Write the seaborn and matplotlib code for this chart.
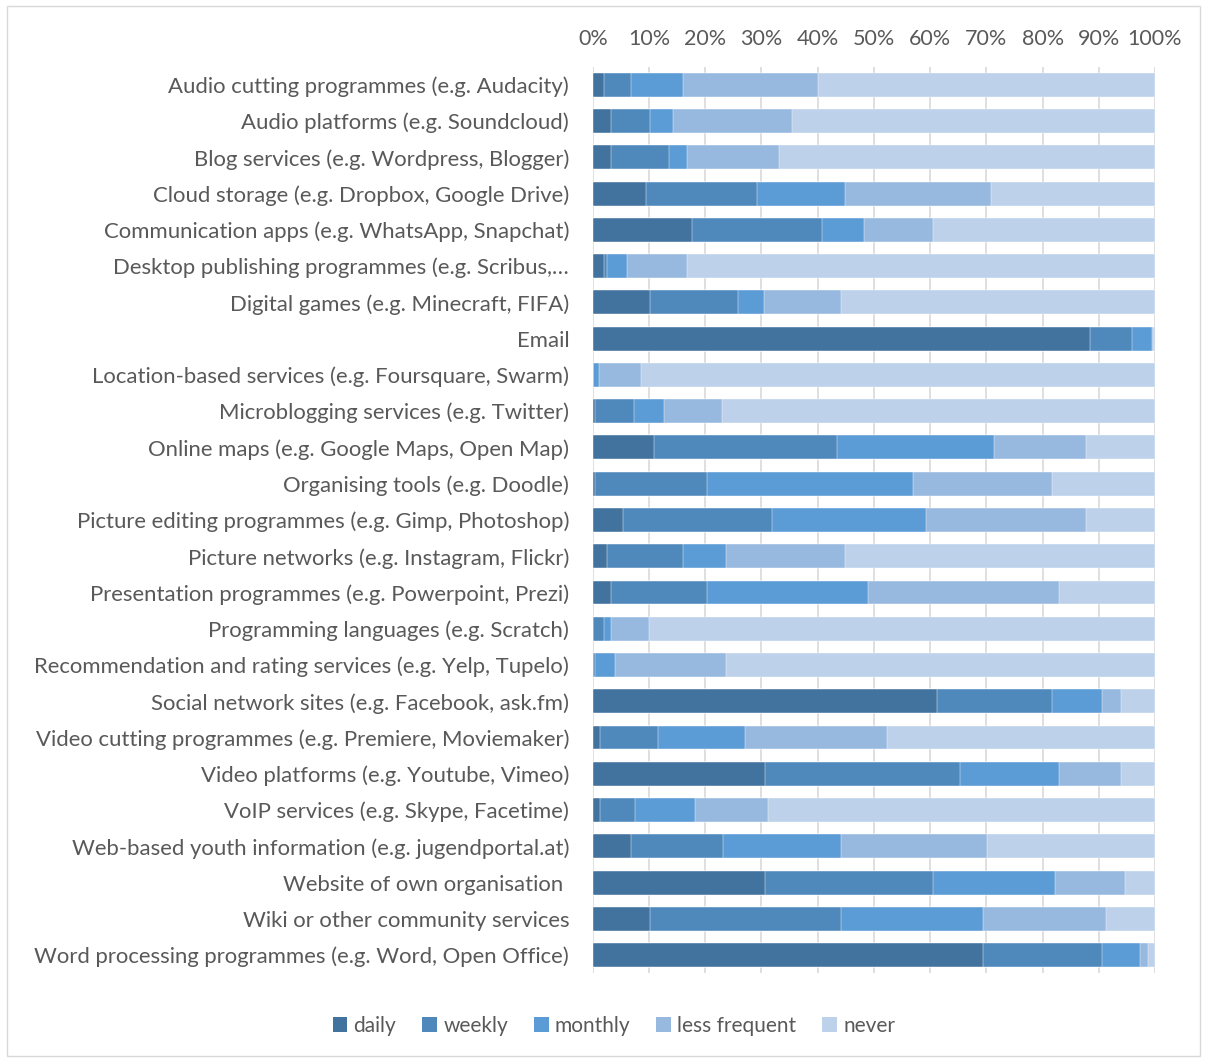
import numpy as np
import pandas as pd
import matplotlib
matplotlib.use('Agg')
import matplotlib.pyplot as plt
import seaborn as sns
from matplotlib.patches import Rectangle, Patch

# --- data (percent of respondents) ---
categories = [
    'Audio cutting programmes (e.g. Audacity)',
    'Audio platforms (e.g. Soundcloud)',
    'Blog services (e.g. Wordpress, Blogger)',
    'Cloud storage (e.g. Dropbox, Google Drive)',
    'Communication apps (e.g. WhatsApp, Snapchat)',
    'Desktop publishing programmes (e.g. Scribus,…',
    'Digital games (e.g. Minecraft, FIFA)',
    'Email',
    'Location-based services (e.g. Foursquare, Swarm)',
    'Microblogging services (e.g. Twitter)',
    'Online maps (e.g. Google Maps, Open Map)',
    'Organising tools (e.g. Doodle)',
    'Picture editing programmes (e.g. Gimp, Photoshop)',
    'Picture networks (e.g. Instagram, Flickr)',
    'Presentation programmes (e.g. Powerpoint, Prezi)',
    'Programming languages (e.g. Scratch)',
    'Recommendation and rating services (e.g. Yelp, Tupelo)',
    'Social network sites (e.g. Facebook, ask.fm)',
    'Video cutting programmes (e.g. Premiere, Moviemaker)',
    'Video platforms (e.g. Youtube, Vimeo)',
    'VoIP services (e.g. Skype, Facetime)',
    'Web-based youth information (e.g. jugendportal.at)',
    'Website of own organisation ',
    'Wiki or other community services',
    'Word processing programmes (e.g. Word, Open Office)',
]

daily = [1.9, 3.3, 3.3, 9.4, 17.6, 1.9, 10.1, 88.5, 0.0, 0.4, 10.8, 0.4, 5.3,
         2.6, 3.3, 0.0, 0.0, 61.2, 1.2, 30.6, 1.2, 6.7, 30.6, 10.1, 69.4]
weekly = [4.8, 6.8, 10.2, 19.8, 23.1, 0.7, 15.7, 7.4, 0.0, 7.0, 32.7, 19.9, 26.5,
          13.5, 17.0, 1.9, 0.4, 20.5, 10.3, 34.8, 6.3, 16.4, 29.9, 34.1, 21.2]
monthly = [9.4, 4.1, 3.3, 15.6, 7.5, 3.4, 4.7, 3.5, 1.1, 5.3, 27.9, 36.7, 27.4,
           7.6, 28.6, 1.3, 3.6, 8.9, 15.6, 17.6, 10.7, 21.1, 21.8, 25.2, 6.7]
less_frequent = [24.0, 21.2, 16.4, 26.0, 12.3, 10.8, 13.7, 0.2, 7.5, 10.3, 16.3, 24.6, 28.5,
                 21.1, 34.1, 6.8, 19.7, 3.3, 25.2, 10.9, 13.0, 25.9, 12.3, 21.9, 1.4]
never = [59.9, 64.6, 66.8, 29.2, 39.5, 83.2, 55.8, 0.4, 91.4, 77.0, 12.3, 18.4, 12.3,
         55.2, 17.0, 90.0, 76.3, 6.1, 47.7, 6.1, 68.8, 29.9, 5.4, 8.7, 1.3]

series_names = ['daily', 'weekly', 'monthly', 'less frequent', 'never']
colors = ['#42729E', '#4F89BC', '#5B9BD6', '#97B8DF', '#BDD1EA']

df = pd.DataFrame({'category': categories, 'daily': daily, 'weekly': weekly,
                   'monthly': monthly, 'less frequent': less_frequent, 'never': never})
# stacked 100% bars: normalise each row, then cumulative sums
vals = df[series_names]
vals = vals.div(vals.sum(axis=1), axis=0) * 100
cum = vals.cumsum(axis=1)

sns.set_style('white')
plt.rcParams['font.family'] = ['Lato', 'DejaVu Sans']
text_col = '#595959'

fig = plt.figure(figsize=(12.05, 10.59), dpi=100)
ax = fig.add_axes([0.492, 0.081, 0.4665, 0.856])

# draw from the outermost cumulative segment to the innermost
for name, col in reversed(list(zip(series_names, colors))):
    sns.barplot(x=cum[name].values, y=df['category'], order=categories,
                color=col, orient='h', width=0.66, ax=ax,
                edgecolor='white', linewidth=0.3, saturation=1)

ax.set_xlim(0, 100)
ax.set_xticks(np.arange(0, 101, 10))
ax.set_xticklabels([f'{t}%' for t in range(0, 101, 10)])
ax.xaxis.tick_top()
ax.tick_params(axis='x', length=0, pad=13, labelsize=15.5, labelcolor=text_col)
ax.tick_params(axis='y', length=0, pad=17, labelsize=15.9, labelcolor=text_col)
ax.set_xlabel('')
ax.set_ylabel('')
ax.grid(axis='x', color='#D9D9D9', linewidth=1.2)
ax.set_axisbelow(True)
for s in ax.spines.values():
    s.set_visible(False)

handles = [Patch(facecolor=c, edgecolor='none') for c in colors]
fig.legend(handles, series_names, loc='center', ncol=5,
           bbox_to_anchor=(614 / 1205, 1 - 1026 / 1059), frameon=False,
           fontsize=15, labelcolor=text_col, handlelength=0.7, handleheight=0.7,
           handletextpad=0.3, columnspacing=1.25)

# chart border
fig.patches.append(Rectangle((7 / 1205, 3 / 1059), 1193 / 1205, 1050 / 1059,
                             transform=fig.transFigure, fill=False,
                             edgecolor='#D9D9D9', linewidth=1))

fig.savefig('out.png', dpi=100)
